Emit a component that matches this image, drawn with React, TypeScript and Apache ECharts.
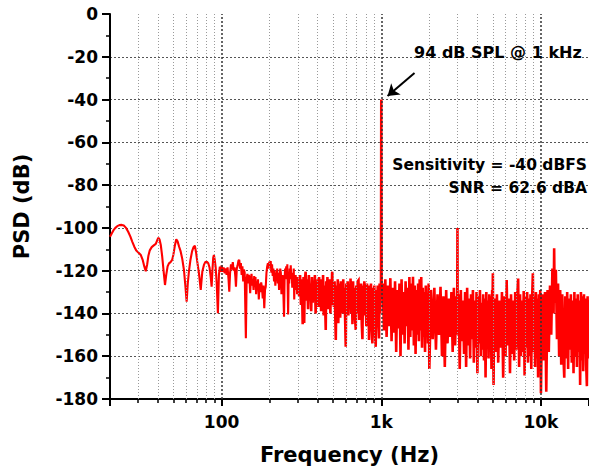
import React, { useEffect, useRef } from "react";
import * as echarts from "echarts";

// ---- data: [frequency (Hz), PSD (dB)] ----
const psdLow: number[][] = [
  [20,-104.1],[20.5,-102.6],[21,-101.2],[21.6,-100],[22.2,-99.2],[22.9,-98.7],[23.7,-98.6],[24.4,-98.9],[25.2,-100],[26,-101.8],
  [26.8,-104],[27.6,-106.5],[28.4,-108.8],[29.2,-110.6],[30.2,-111.6],[31.2,-112.7],[32,-114.8],[32.8,-118],[33.5,-120.3],[34.2,-117],
  [34.8,-113],[35.5,-110.5],[36.5,-109],[37.6,-108.2],[38.7,-107.5],[39.5,-105.8],[40.2,-104.6],[40.9,-105.5],[41.6,-108],[42.4,-113],
  [43.3,-120],[44.2,-126.7],[45,-122],[45.9,-118],[46.8,-116.6],[47.9,-116],[49,-115],[49.9,-112.5],[50.9,-108.5],[52,-105.3],
  [53,-106.3],[54.2,-108.8],[55.4,-111],[56.7,-114.5],[58.1,-119.7],[59.3,-127],[60.4,-134.5],[61.4,-126],[62.4,-120.5],[63.8,-115],
  [65.3,-111],[66.7,-109],[68,-108.3],[69.2,-111.5],[70.4,-115.8],[72.2,-121.5],[74,-129],[75.7,-120.5],[77.5,-117.3],[79,-116],
  [80.8,-115.8],[82.5,-116.5],[84,-118.5],[85.5,-123],[86.6,-127.5],[87.6,-120],[88.6,-114],[89.5,-112.7],[90.6,-115],[91.8,-118.5],
  [93.2,-126],[94.8,-139.9],[96.2,-122],[97.5,-118.1],[98.8,-120.5],
];
const psd100: number[][] = [
  [100,-117.5],[101.5,-120.5],[103,-118.5],[104.5,-121.2],[106,-119],[107.5,-122],[109,-118.5],[110.5,-124],[111.7,-129.8],[113,-121],
  [114.5,-117],[116,-119.5],[117.5,-116],[119,-120],[120.5,-118.5],[122,-123],[123,-127.5],[124.5,-119],[126,-117.5],[127.5,-115.3],
  [129,-115],[130.5,-119],[132,-116.5],[133.5,-122],[135,-118],[136.5,-125],[138,-119.5],[139.5,-121],[141.9,-151.6],[143.5,-124],
  [145,-121.5],[146.5,-126],[148,-122],[149.5,-124],[151,-130.5],[152.5,-123.5],[154,-121.5],[155.5,-127],[157,-124],[158.5,-129],
  [160,-122.5],[161.5,-126],[163,-123],[164.5,-131],[166,-125],[167.5,-128],[169,-124],[171,-133.5],[173,-126],[175,-130],
  [177,-125.5],[179,-128],[181,-133],[183,-127],[185,-137.5],[187,-129],[189,-127.5],[191,-121],[193,-118],[195,-116.5],
  [197,-119],[199,-115.8],
];
const psd200: number[][] = [
  [201,-117],[203,-115.5],[205,-121],[207,-117],[209,-122.5],[211,-119],[213,-125],[215,-120],[217,-127],[219,-121.5],
  [221,-124],[223,-119],[225,-126],[227,-121],[229,-129],[231,-123],[233,-119],[235,-121],[237,-131],[239,-125],
  [241,-122],[243,-127],[246,-141.5],[248,-124],[250,-119],[252,-121.5],[254,-118],[256,-124],[258,-117],[261,-140.5],
  [263,-122],[265,-126],[267,-119],[269,-123],[271,-117.5],[273,-124],[275,-121],[277,-128],[279,-122],[281,-126],
  [283,-119],[285,-133.5],[287,-123],[289,-127],[291,-122],[293,-129],[295,-124],[297,-131],[299,-123],
];
const psd300: number[][] = [
  [302,-126],[306,-132],[310,-122],[314,-136],[318,-124],[322,-145],[326,-123],[329,-144.5],[332,-125],[336,-120.5],
  [340,-134],[344,-124],[348,-138],[352,-122],[356,-133],[360,-126],[364,-139],[368,-123],[372,-135],[376,-125],
  [380,-131],[384,-122],[388,-140],[392,-127],[396,-134],[400,-124],[404,-137],[408,-123],[412,-132],[416,-126],
  [420,-139],[424,-124],[428,-135],[432,-122],[436,-141],[440,-127],[444,-133],[449,-147.7],[452,-125],[456,-136],
  [460,-123],[464,-138],[468,-126],[472,-134],[476,-124],[480,-140],[484,-125],[488,-136],[492,-121],[494,-120.5],
  [496,-133],[500,-126],
];
const psd500: number[][] = [
  [505,-137],[510,-125],[515,-141],[519,-152.4],[524,-127],[530,-139],[534,-124],[538,-144.6],[543,-126],[548,-136],
  [553,-142],[558,-125],[563,-138],[568,-127],[573,-140],[578,-124],[583,-137],[588,-128],[594,-143],[599,-155.6],
  [604,-126],[610,-139],[616,-125],[622,-141],[628,-127],[634,-137],[642,-123.7],[648,-140],[654,-126],[660,-145],
  [666,-125],[672,-138],[678,-128],[685,-142],[692,-147.7],[698,-127],[705,-140],[712,-125],[720,-124.5],[727,-143],
  [734,-128],[741,-139],[748,-126],[755,-145],[762,-152],[769,-127],[776,-141],[783,-125],[790,-138],[798,-128],
  [806,-146],[814,-126],[822,-140],[830,-127],[838,-152.4],[846,-129],[854,-143],[862,-126],[870,-147],[880,-154],
  [888,-128],[896,-145],[905,-127],[914,-150],[923,-155.6],[932,-129],[941,-146],[950,-127],[959,-144],[968,-151.7],
  [976,-126],[984,-140],[992,-127],[996,-131],[1000,-40],[1004,-128],
];
const psd1k: number[][] = [
  [1020,-126],[1040,-148],[1060,-124],[1080,-151],[1100,-127],[1120,-146],[1140,-123.5],[1160,-153],[1180,-128],[1200,-149],
  [1220,-125],[1240,-158],[1260,-129],[1280,-147],[1300,-126],[1320,-160],[1340,-124],[1360,-150],[1380,-130],[1400,-154],
  [1420,-125],[1440,-146],[1460,-128],[1480,-157],[1500,-123],[1520,-151],[1540,-126],[1560,-148],[1580,-122.8],[1600,-155],
  [1620,-127],[1640,-159],[1660,-129],[1680,-150],[1700,-126],[1720,-153],[1740,-124],[1760,-148],[1780,-123],[1800,-156],
  [1820,-128],[1840,-151],[1860,-130],[1880,-158],[1900,-127],[1920,-149],[1940,-131],[1960,-154],[1980,-126],[2000,-166],
];
const psd2k: number[][] = [
  [2050,-129],[2100,-152],[2150,-128],[2200,-157],[2250,-131],[2300,-150],[2350,-127.5],[2400,-160],[2450,-132],[2500,-165],
  [2550,-129],[2600,-154],[2650,-133],[2700,-151],[2750,-130],[2800,-158],[2850,-128],[2900,-155],[2950,-132],[2990,-140],
  [3000,-100],[3010,-150],[3050,-131],[3100,-166],[3150,-129],[3200,-153],[3250,-134],[3300,-159],[3350,-130],[3400,-165],
  [3450,-128],[3500,-155],[3550,-133],[3600,-161],[3650,-131],[3700,-152],[3750,-129],[3800,-163],[3850,-134],[3900,-156],
  [3950,-130],[4000,-168],[4050,-132],[4100,-154],[4150,-129],[4200,-160],[4250,-135],[4300,-157],[4350,-131],[4400,-162],
  [4450,-133],[4500,-170],[4550,-130],[4600,-155],[4650,-134],[4700,-161],[4750,-131],[4800,-158],[4850,-132],[4900,-166],
  [4950,-129],[4980,-133],[5000,-121.2],[5020,-150],
];
const psd5k: number[][] = [
  [5050,-173.4],[5100,-133],[5200,-158],[5300,-131],[5400,-163],[5500,-134],[5600,-156],[5700,-130],[5800,-170],[5900,-132],
  [6000,-160],[6100,-124.4],[6200,-155],[6300,-133],[6400,-168],[6500,-131],[6600,-159],[6700,-134],[6800,-162],[6900,-130],
  [7000,-157],[7100,-132],[7200,-123.7],[7300,-165],[7400,-131],[7500,-160],[7600,-134],[7700,-158],[7800,-129.5],[7900,-169],
  [8000,-132],[8100,-156],[8200,-130],[8300,-163],[8400,-133],[8500,-160],[8600,-131],[8700,-166],[8800,-134],[8900,-121.2],
  [9000,-158],[9100,-132],[9200,-165],[9300,-130],[9400,-161],[9500,-133],[9600,-170],[9700,-131],[9800,-157],[9900,-129],
  [10000,-177.3],
];
const psd10k: number[][] = [
  [10200,-131],[10400,-162],[10600,-130],[10800,-176.6],[11000,-129],[11200,-158],[11400,-127],[11600,-150],[11800,-119],[12000,-140],
  [12100,-109.5],[12200,-135],[12400,-119.6],[12600,-152],[12800,-126],[13000,-160],[13200,-129],[13400,-164],[13600,-131],[13800,-158],
  [14000,-170],[14200,-132],[14400,-161],[14600,-130],[14800,-166],[15000,-133],[15200,-157],[15400,-131],[15600,-163],[15800,-134],
  [16000,-168],[16200,-130],[16400,-160],[16600,-133],[16800,-165],[17000,-131],[17200,-158],[17400,-134],[17600,-173.4],[17800,-130],
  [18000,-162],[18200,-132],[18400,-167],[18600,-131],[18800,-159],[19000,-133],[19200,-164],[19400,-174],[19600,-132],[19800,-161],
  [20000,-134],
];

const xTickValues = [100, 1000, 10000];
const xTickLabels = ["100", "1k", "10k"];
const minorGridFreqs = [30, 40, 50, 60, 70, 80, 90, 200, 300, 400, 500, 600, 700, 800, 900, 2000, 3000, 4000, 5000, 6000, 7000, 8000, 9000];
const majorGridFreqs = [100, 1000, 10000];

const annotTitle = "94 dB SPL @ 1 kHz";
const annotSens = "Sensitivity = -40 dBFS";
const annotSnr = "SNR = 62.6 dBA";

const FONT = "DejaVu Sans";

export default function App() {
  const ref = useRef<HTMLDivElement>(null);
  useEffect(() => {
    if (!ref.current) return;
    const chart = echarts.init(ref.current, undefined, { renderer: "svg" });
    const psdSparse = [...psdLow, ...psd100, ...psd200, psd300[0]];
    const psdDense = [...psd300, ...psd500, ...psd1k, ...psd2k, ...psd5k, ...psd10k];
    const labelFor = (v: number) => {
      for (let i = 0; i < xTickValues.length; i++) {
        if (Math.abs(v - xTickValues[i]) / xTickValues[i] < 1e-4) return xTickLabels[i];
      }
      return "";
    };
    chart.setOption({
      animation: false,
      backgroundColor: "#ffffff",
      grid: { left: 110, right: 0, top: 14, bottom: 72, outerBoundsMode: "none", containLabel: false },
      xAxis: {
        type: "log",
        logBase: 10,
        min: 20,
        max: 20000,
        name: "Frequency (Hz)",
        nameLocation: "middle",
        nameGap: 45,
        nameTextStyle: { fontFamily: FONT, fontWeight: "bold", fontSize: 21, color: "#000" },
        axisLine: { show: true, onZero: false, lineStyle: { color: "#000", width: 2 } },
        axisTick: { show: true, length: 7, lineStyle: { color: "#000", width: 2 } },
        minorTick: { show: true, splitNumber: 9, length: 4, lineStyle: { color: "#000", width: 1.5 } },
        axisLabel: {
          formatter: (v: number) => labelFor(v),
          fontFamily: FONT, fontWeight: "bold", fontSize: 17, color: "#000", margin: 14,
        },
        splitLine: { show: false },
        minorSplitLine: { show: false },
      },
      yAxis: {
        type: "value",
        min: -180,
        max: 0,
        interval: 20,
        name: "PSD (dB)",
        nameLocation: "middle",
        nameGap: 78,
        nameRotate: 90,
        nameTextStyle: { fontFamily: FONT, fontWeight: "bold", fontSize: 21, color: "#000" },
        axisLine: { show: true, onZero: false, lineStyle: { color: "#000", width: 2 } },
        axisTick: { show: true, length: 8, lineStyle: { color: "#000", width: 2 } },
        minorTick: { show: true, splitNumber: 2, length: 4, lineStyle: { color: "#000", width: 1.5 } },
        axisLabel: { fontFamily: FONT, fontWeight: "bold", fontSize: 17, color: "#000", margin: 12 },
        splitLine: { show: true, showMaxLine: false, showMinLine: false, lineStyle: { color: "#555", width: 1, type: [2, 2] } },
      },
      series: [
        {
          type: "line",
          data: [[20, -180]],
          symbol: "none",
          lineStyle: { width: 0, opacity: 0 },
          silent: true,
          z: 1,
          markLine: {
            silent: true,
            symbol: "none",
            label: { show: false },
            animation: false,
            data: [
              ...minorGridFreqs.map((f) => ({ xAxis: f, lineStyle: { color: "#9a9a9a", width: 1, type: [1, 2] } })),
              ...majorGridFreqs.map((f) => ({ xAxis: f, lineStyle: { color: "#333", width: 1.5, type: [2, 2] } })),
            ],
          },
        },
        {
          type: "line",
          data: psdSparse,
          symbol: "none",
          lineStyle: { color: "#ff0000", width: 2.1 },
          z: 3,
          silent: true,
        },
        {
          type: "line",
          data: psdDense,
          symbol: "none",
          lineStyle: { color: "#ff0000", width: 2.6, join: "miter" },
          z: 3,
          silent: true,
        },
        {
          type: "line",
          data: [[20, -180]],
          symbol: "none",
          lineStyle: { width: 0, opacity: 0 },
          silent: true,
          clip: false,
          z: 5,
          markLine: {
            silent: true,
            symbol: ["none", "arrow"],
            symbolSize: 11,
            label: { show: false },
            lineStyle: { color: "#000", width: 2, type: "solid" },
            data: [[{ coord: [1615, -27.6] }, { coord: [1095, -38.3] }]],
          },
          markPoint: {
            silent: true,
            symbol: "circle",
            symbolSize: 0,
            itemStyle: { color: "transparent" },
            data: [
              {
                coord: [5375, -18.0],
                label: { show: true, position: "inside", formatter: annotTitle, fontFamily: FONT, fontWeight: "bold", fontSize: 16, color: "#000", align: "center", verticalAlign: "middle" },
              },
              {
                coord: [20000, -70.8],
                label: { show: true, position: "left", distance: 2, formatter: annotSens, fontFamily: FONT, fontWeight: "bold", fontSize: 15.5, color: "#000" },
              },
              {
                coord: [20000, -81.2],
                label: { show: true, position: "left", distance: 2, formatter: annotSnr, fontFamily: FONT, fontWeight: "bold", fontSize: 15.5, color: "#000" },
              },
            ],
          },
        },
      ],
    });
    return () => chart.dispose();
  }, []);
  return <div ref={ref} style={{ position: "fixed", left: 0, top: 0, width: 589, height: 471, background: "#fff" }} />;
}
